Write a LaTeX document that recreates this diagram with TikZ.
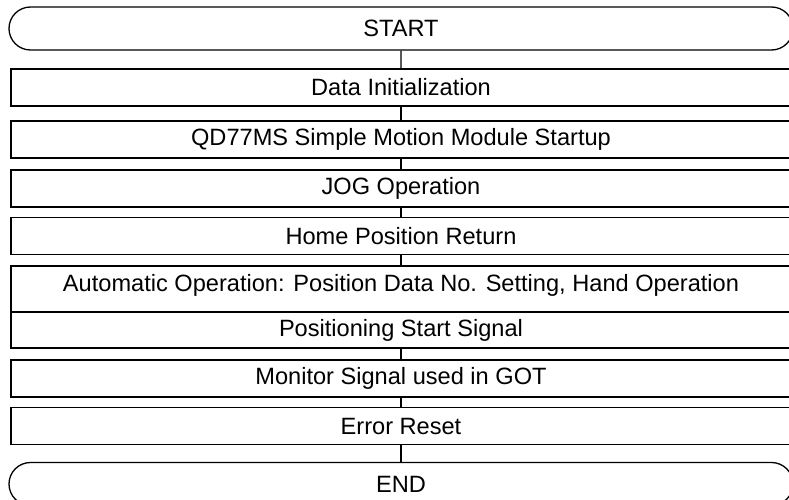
\documentclass[tikz,border=0pt]{standalone}
\usepackage{fontspec}
\setmainfont{Liberation Sans}
\usetikzlibrary{shapes.misc}
\begin{document}
\begin{tikzpicture}[x=1pt, y=-1pt, every node/.style={font=\fontsize{23.6}{28}\selectfont}]
  \tikzset{
    stepbox/.style={draw, line width=1.6pt, minimum width=780pt, minimum height=37pt, inner sep=0pt},
    termbox/.style={draw, line width=1.3pt, rounded rectangle, minimum width=784pt, minimum height=43pt, inner sep=0pt},
    conn/.style={line width=1.2pt},
  }
  \useasboundingbox (0,0) rectangle (789,500);

  \node[termbox] (start) at (401,28.5) {START};
  \node[stepbox] (init)  at (401,87.5) {Data Initialization};
  \node[stepbox] (boot)  at (401,139.5) {QD77MS Simple Motion Module Startup};
  \node[stepbox] (jog)   at (401,188.5) {JOG Operation};
  \node[stepbox] (home)  at (401,236) {Home Position Return};
  \node[stepbox, minimum height=46pt, text depth=13pt] (auto) at (401,289) {Automatic Operation: Position Data No. Setting, Hand Operation};
  \node[stepbox, minimum height=36pt] (pstart) at (401,330) {Positioning Start Signal};
  \node[stepbox] (mon)   at (401,378.5) {Monitor Signal used in GOT};
  \node[stepbox] (reset) at (401,426) {Error Reset};
  \node[termbox] (end)   at (401,484) {END};

  \draw[conn] (start) -- (init);
  \draw[conn] (init) -- (boot);
  \draw[conn] (boot) -- (jog);
  \draw[conn] (jog) -- (home);
  \draw[conn] (home) -- (auto);
  \draw[conn] (pstart) -- (mon);
  \draw[conn] (mon) -- (reset);
  \draw[conn] (reset) -- (end);
\end{tikzpicture}
\end{document}
